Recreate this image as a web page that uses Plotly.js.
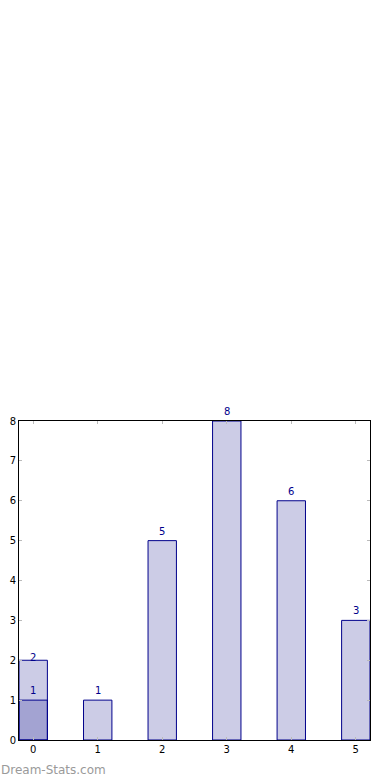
<!DOCTYPE html>
<html>
<head>
<meta charset="utf-8">
<script src="https://cdn.plot.ly/plotly-3.0.1.min.js"></script>
<style>html,body{margin:0;padding:0;background:#fff;}#chart{width:390px;height:780px;}</style>
</head>
<body>
<div id="chart"></div>
<script>
const categories = [0, 1, 2, 3, 4, 5];
const totalValues = [2, 1, 5, 8, 6, 3];
const subCategories = [0];
const subValues = [1];
const tickLabels = ['0', '1', '2', '3', '4', '5'];

const fill = 'rgba(0,0,128,0.2)';
const edge = '#00008b';

const traces = [
  {type: 'bar', x: categories, y: totalValues, width: 0.44,
   marker: {color: fill, line: {color: edge, width: 1}}, hoverinfo: 'none'},
  {type: 'bar', x: subCategories, y: subValues, width: 0.44,
   marker: {color: fill, line: {color: edge, width: 1}}, hoverinfo: 'none'}
];

const labelFont = {size: 10, color: '#00008b', family: 'DejaVu Sans'};
const annotations = [];
categories.forEach((c, i) => {
  // the first category's total label sits lower, overlapping its bar top as in the reference
  const shift = (subCategories.indexOf(c) >= 0) ? -5 : 2;
  annotations.push({x: c, y: totalValues[i], text: String(totalValues[i]),
    showarrow: false, yanchor: 'bottom', yshift: shift, font: labelFont});
});
subCategories.forEach((c, i) => annotations.push({x: c, y: subValues[i], text: String(subValues[i]),
  showarrow: false, yanchor: 'bottom', yshift: 2, font: labelFont}));
annotations.push({xref: 'paper', yref: 'paper', x: -0.057, y: -0.094, xanchor: 'left', yanchor: 'middle',
  text: 'Dream-Stats.com', showarrow: false, font: {size: 12, color: '#9a9a9a', family: 'DejaVu Sans'}});

const layout = {
  width: 390, height: 780,
  margin: {l: 19, r: 20, t: 421, b: 40},
  paper_bgcolor: '#fff', plot_bgcolor: '#fff',
  barmode: 'overlay',
  showlegend: false,
  font: {family: 'DejaVu Sans', size: 10, color: '#000'},
  xaxis: {range: [-0.22, 5.22], tickvals: categories, ticktext: tickLabels,
    showgrid: false, zeroline: false, showline: true, linecolor: '#000', linewidth: 1, mirror: 'ticks',
    ticks: 'inside', ticklen: 3, tickcolor: '#bbbbbb', tickwidth: 1, tickfont: {size: 10}},
  yaxis: {range: [0, 8], dtick: 1, tick0: 0,
    showgrid: false, zeroline: false, showline: true, linecolor: '#000', linewidth: 1, mirror: 'ticks',
    ticks: 'inside', ticklen: 3, tickcolor: '#bbbbbb', tickwidth: 1, tickfont: {size: 10}},
  annotations: annotations
};

Plotly.newPlot('chart', traces, layout, {displayModeBar: false, staticPlot: true});
</script>
</body>
</html>
